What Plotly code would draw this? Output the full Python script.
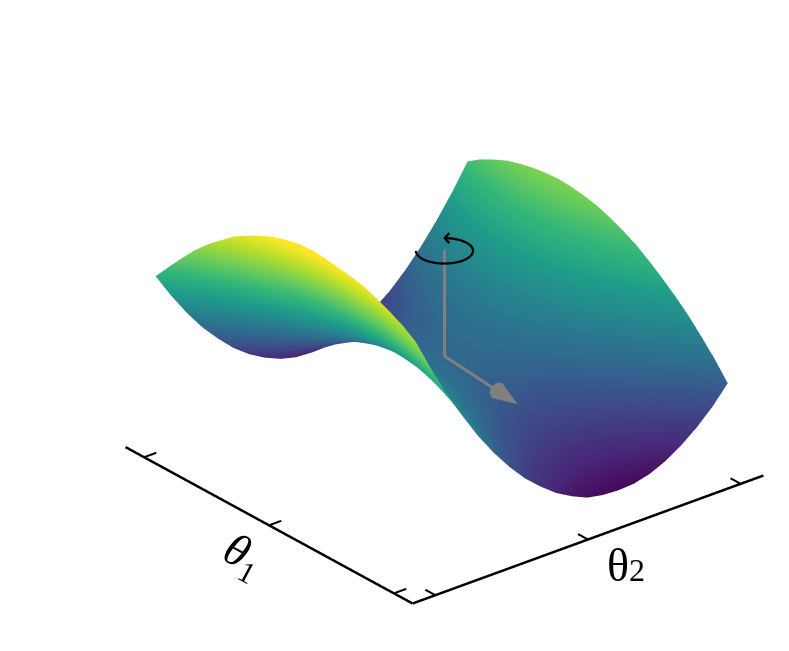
import plotly.graph_objects as go
import math

theta1 = [0.050, 0.095, 0.141, 0.186, 0.231, 0.277, 0.322, 0.367, 0.412, 0.458, 0.503,
          0.548, 0.594, 0.639, 0.684, 0.730, 0.775, 0.820, 0.865, 0.911, 0.956]
theta2 = [0.050, 0.094, 0.139, 0.183, 0.228, 0.272, 0.317, 0.361, 0.406, 0.450, 0.495,
          0.539, 0.583, 0.628, 0.672, 0.717, 0.761, 0.806, 0.850, 0.895, 0.939]
loss = [
    [247, 214, 183, 156, 130, 108, 88, 71, 57, 45, 36, 29, 26, 25, 26, 30, 37, 47, 59, 74, 92],
    [256, 223, 193, 166, 141, 119, 99, 82, 69, 57, 49, 42, 39, 39, 40, 45, 52, 62, 75, 90, 109],
    [263, 231, 201, 174, 150, 128, 109, 92, 79, 68, 60, 54, 51, 51, 53, 58, 66, 76, 89, 105, 124],
    [269, 237, 208, 181, 157, 136, 117, 101, 88, 78, 70, 64, 62, 62, 65, 70, 78, 89, 102, 119, 138],
    [274, 242, 213, 187, 163, 142, 124, 109, 96, 86, 78, 73, 71, 72, 75, 81, 89, 100, 114, 131, 150],
    [277, 246, 217, 192, 168, 148, 130, 115, 103, 93, 85, 81, 79, 80, 84, 90, 99, 110, 125, 142, 161],
    [279, 248, 220, 195, 172, 152, 134, 120, 108, 98, 91, 87, 86, 87, 91, 98, 107, 119, 134, 151, 171],
    [281, 250, 222, 197, 174, 155, 137, 123, 112, 102, 96, 92, 92, 93, 97, 105, 114, 127, 142, 159, 180],
    [282, 251, 223, 197, 175, 156, 139, 125, 114, 105, 99, 96, 96, 98, 102, 110, 120, 133, 148, 166, 187],
    [281, 250, 222, 197, 175, 156, 140, 126, 115, 107, 101, 99, 99, 101, 106, 114, 124, 138, 153, 172, 193],
    [278, 247, 220, 195, 174, 155, 139, 126, 115, 107, 102, 100, 100, 103, 108, 116, 127, 141, 157, 176, 198],
    [274, 244, 217, 193, 171, 153, 137, 124, 114, 106, 102, 100, 100, 104, 109, 118, 129, 143, 160, 179, 201],
    [268, 239, 212, 188, 166, 149, 134, 121, 111, 104, 100, 98, 99, 103, 109, 118, 130, 144, 161, 181, 203],
    [261, 232, 206, 182, 161, 144, 129, 117, 107, 101, 97, 95, 97, 101, 107, 117, 129, 144, 161, 181, 204],
    [253, 223, 197, 174, 154, 137, 123, 111, 102, 96, 92, 91, 93, 97, 104, 114, 127, 142, 159, 180, 203],
    [242, 214, 188, 165, 146, 129, 116, 104, 96, 90, 86, 86, 88, 93, 100, 110, 123, 139, 157, 178, 201],
    [231, 203, 178, 155, 137, 120, 107, 96, 88, 82, 79, 79, 82, 87, 95, 105, 118, 134, 153, 174, 198],
    [218, 190, 167, 144, 126, 110, 97, 86, 79, 73, 71, 71, 74, 80, 88, 99, 112, 129, 148, 169, 194],
    [203, 177, 153, 132, 114, 98, 86, 75, 68, 63, 61, 62, 65, 71, 80, 91, 105, 122, 141, 163, 188],
    [187, 162, 139, 118, 101, 85, 73, 63, 56, 52, 50, 51, 55, 61, 70, 82, 96, 114, 133, 156, 181],
    [171, 146, 123, 103, 86, 71, 59, 50, 43, 39, 38, 39, 43, 50, 59, 71, 86, 104, 124, 147, 172],
]
tick_positions = [0.065, 0.5, 0.935]
tick_length = 0.035
saddle_point = (0.5, 0.5, 105)
axis_top = 211
arrow_tip = (0.4745, 0.2145, 105)
ring_radius = 0.063
depth_gain = 0.175   # heights farther from the viewer look shorter than their colour says

# camera
right = (0.774, -0.633, 0.0)
fwd = (0.633, 0.774, 0.0)
eye_dir = (-0.567, -0.693, 0.446)
center = (-0.1649, 0.0020, -0.2067)
R = 2.0
scale = 1.393

def line(xs, ys, zs, color="black", width=5):
    return go.Scatter3d(x=xs, y=ys, z=zs, mode="lines", line=dict(color=color, width=width),
                        hoverinfo="skip", showlegend=False)

n = len(loss) - 1
shade = [[v * (1 + depth_gain * (i + j) / (2 * n)) for j, v in enumerate(row)] for i, row in enumerate(loss)]

fig = go.Figure()
flat = dict(ambient=1, diffuse=0, specular=0, fresnel=0, roughness=1)
fig.add_trace(go.Surface(x=theta2, y=theta1, z=loss, surfacecolor=shade, colorscale="Viridis",
                         cmin=20, cmax=285, showscale=False, lighting=flat, hoverinfo="skip"))
# floor axes
fig.add_trace(line([0, 0], [1, 0], [0, 0]))
fig.add_trace(line([0, 1], [0, 0], [0, 0]))
for t in tick_positions:
    fig.add_trace(line([0, tick_length], [t, t], [0, 0], width=4))
    fig.add_trace(line([t, t], [0, tick_length], [0, 0], width=4))

# gray axis + arrow
sx, sy, sz = saddle_point
fig.add_trace(line([sx, sx], [sy, sy], [sz, axis_top], color="#808080", width=6))
ax, ay, az = arrow_tip
fig.add_trace(line([sx, sx + 0.8 * (ax - sx)], [sy, sy + 0.8 * (ay - sy)], [sz, sz], color="#808080", width=6))
fig.add_trace(go.Cone(x=[ax], y=[ay], z=[az], u=[ax - sx], v=[ay - sy], w=[0], anchor="tip",
                      sizemode="absolute", sizeref=0.08, showscale=False,
                      colorscale=[[0, "#808080"], [1, "#808080"]], lighting=flat, hoverinfo="skip"))

# rotation ring
ring_z = 210
angles = [math.radians(a) for a in range(180, 451, 5)]
rx = [sx + ring_radius * (math.cos(a) * right[0] + math.sin(a) * fwd[0]) for a in angles]
ry = [sy + ring_radius * (math.cos(a) * right[1] + math.sin(a) * fwd[1]) for a in angles]
fig.add_trace(line(rx, ry, [ring_z] * len(rx), width=4.5))
tx, ty = rx[-1], ry[-1]
chev = [(0.011, 0.025), (0.0, 0.0), (0.011, -0.025)]
fig.add_trace(line([tx + a * right[0] + b * fwd[0] for a, b in chev],
                   [ty + a * right[1] + b * fwd[1] for a, b in chev],
                   [ring_z] * 3, width=4.5))

hidden = dict(visible=False)
fig.update_layout(
    width=789, height=651, margin=dict(l=0, r=0, t=0, b=0),
    paper_bgcolor="white", showlegend=False,
    scene=dict(
        domain=dict(x=[0, 1], y=[0, 1]),
        xaxis=dict(range=[0, 1], **hidden),
        yaxis=dict(range=[0, 1], **hidden),
        zaxis=dict(range=[0, 405], **hidden),
        aspectmode="manual", aspectratio=dict(x=scale, y=scale, z=scale),
        camera=dict(
            projection=dict(type="orthographic"),
            up=dict(x=0, y=0, z=1),
            center=dict(x=center[0], y=center[1], z=center[2]),
            eye=dict(x=center[0] + R * eye_dir[0], y=center[1] + R * eye_dir[1], z=center[2] + R * eye_dir[2]),
        ),
    ),
    annotations=[
        dict(text='<i>θ</i><sub><span style="font-size:30px">1</span></sub>', x=235 / 789, y=1 - 548 / 651,
             xref="paper", yref="paper", xanchor="center", yanchor="middle",
             showarrow=False, textangle=28, font=dict(family="Liberation Serif", size=46, color="black")),
        dict(text='θ<span style="font-size:32px">2</span>', x=618 / 789, y=1 - 557 / 651, xref="paper", yref="paper",
             xanchor="center", yanchor="middle",
             showarrow=False, font=dict(family="Liberation Serif", size=46, color="black")),
    ],
)
fig.write_html("out.html")
